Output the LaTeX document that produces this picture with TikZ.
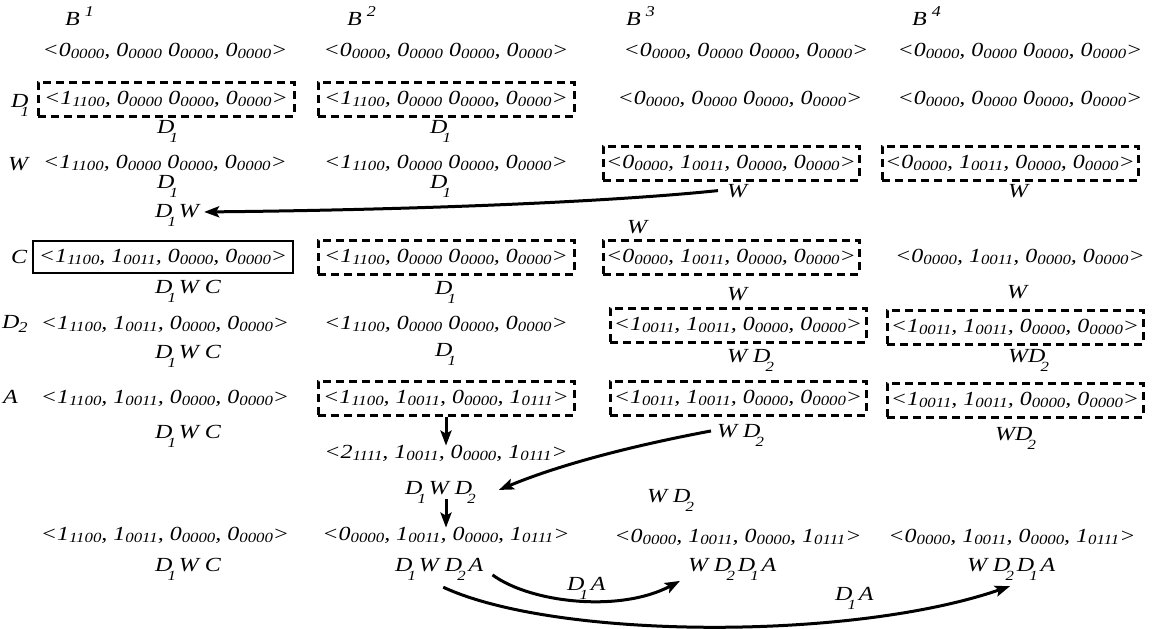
\documentclass[tikz,border=0pt]{standalone}
\usepackage{fontspec}
\setmainfont{Liberation Serif}[FakeStretch=1.2]
\usetikzlibrary{arrows.meta,calc}
% group value with its bit pattern set small beside it
\newcommand\subsz{\itshape\fontsize{14}{14}\selectfont}
\newcommand\gp[2]{#1\raisebox{-2.5pt}{\subsz #2}}
\newcommand\Z{\gp{0}{0000}}
% index under a capital in the labels
\newcommand\lsub[1]{\kern-5pt\raisebox{-9pt}{\fontsize{14}{14}\selectfont #1}}
\newcommand\Da{D\lsub{1}\kern3pt}
\newcommand\Db{D\lsub{2}\kern3pt}
\newcommand\hd[1]{B\kern5pt\raisebox{9pt}{\fontsize{15}{15}\selectfont #1}}
\begin{document}
\begin{tikzpicture}[x=1pt,y=-1pt,
  vec/.style={font=\fontsize{20}{20}\selectfont\itshape, inner sep=0pt},
  dbox/.style={vec, draw, line width=3pt, dash pattern=on 8pt off 5pt,
    minimum width=256pt, minimum height=34pt},
  sbox/.style={vec, draw, line width=2.8pt, minimum width=260pt, minimum height=32pt},
  lab/.style={font=\fontsize{20}{20}\selectfont\itshape, inner sep=0pt, anchor=base west},
  arr/.style={line width=3pt, -{Stealth[length=15pt,width=11pt,inset=3pt]}}]
\useasboundingbox (0,0) rectangle (1160,629);

% column heads
\node[lab] (h1) at (65,25) {\hd{1}};
\node[lab] (h2) at (347,25) {\hd{2}};
\node[lab] (h3) at (626,25) {\hd{3}};
\node[lab] (h4) at (912,25) {\hd{4}};

% row heads
\node[lab] (rl1) at (11,107) {D\kern-8pt\raisebox{-9pt}{\fontsize{14}{14}\selectfont 1}};
\node[lab] (rl2) at (8,170) {W};
\node[lab] (rl3) at (11,263) {C};
\node[lab] (rl4) at (2,328) {D\kern-1pt\raisebox{-4pt}{\fontsize{15}{15}\selectfont 2}};
\node[lab] (rl5) at (3,403) {A};

% row 0
\node[vec] (v01) at (165,51) {<\Z, \Z{} \Z, \Z>};
\node[vec] (v02) at (446,51) {<\Z, \Z{} \Z, \Z>};
\node[vec] (v03) at (746,51) {<\Z, \Z{} \Z, \Z>};
\node[vec] (v04) at (1020,51) {<\Z, \Z{} \Z, \Z>};

% row 1
\node[dbox] (b11) at (166,99) {<\gp{1}{1100}, \Z{} \Z, \Z>};
\node[dbox] (b12) at (446,99) {<\gp{1}{1100}, \Z{} \Z, \Z>};
\node[vec] (v13) at (740,99) {<\Z, \Z{} \Z, \Z>};
\node[vec] (v14) at (1020,99) {<\Z, \Z{} \Z, \Z>};
\node[lab] (l11) at (157,133) {\Da};
\node[lab] (l12) at (430,133) {\Da};

% row 2
\node[vec] (v21) at (165,163) {<\gp{1}{1100}, \Z{} \Z, \Z>};
\node[vec] (v22) at (446,163) {<\gp{1}{1100}, \Z{} \Z, \Z>};
\node[dbox] (b23) at (731,163) {<\Z, \gp{1}{0011}, \Z, \Z>};
\node[dbox] (b24) at (1010,163) {<\Z, \gp{1}{0011}, \Z, \Z>};
\node[lab] (l21) at (157,188) {\Da};
\node[lab] (l22) at (430,188) {\Da};
\node[lab] (l23) at (727,197) {W};
\node[lab] (l24) at (1008,197) {W};
\node[lab] (dw) at (155,217) {\Da W};
\node[lab] (wf) at (627,233) {W};

% row 3
\node[sbox] (s31) at (163,257) {<\gp{1}{1100}, \gp{1}{0011}, \Z, \Z>};
\node[dbox] (b32) at (446,257) {<\gp{1}{1100}, \Z{} \Z, \Z>};
\node[dbox] (b33) at (731,257) {<\Z, \gp{1}{0011}, \Z, \Z>};
\node[vec] (v34) at (1020,257) {<\Z, \gp{1}{0011}, \Z, \Z>};
\node[lab] (l31) at (155,293) {\Da W C};
\node[lab] (l32) at (435,294) {\Da};
\node[lab] (l33) at (727,300) {W};
\node[lab] (l34) at (1007,298) {W};

% row 4
\node[vec] (v41) at (165,324) {<\gp{1}{1100}, \gp{1}{0011}, \Z, \Z>};
\node[vec] (v42) at (446,324) {<\gp{1}{1100}, \Z{} \Z, \Z>};
\node[dbox] (b43) at (738,325) {<\gp{1}{0011}, \gp{1}{0011}, \Z, \Z>};
\node[dbox] (b44) at (1015,327) {<\gp{1}{0011}, \gp{1}{0011}, \Z, \Z>};
\node[lab] (l41) at (155,358) {\Da W C};
\node[lab] (l42) at (435,356) {\Da};
\node[lab] (l43) at (727,362) {W \Db};
\node[lab] (l44) at (1008,362) {W\Db};

% row 5
\node[vec] (v51) at (165,398) {<\gp{1}{1100}, \gp{1}{0011}, \Z, \Z>};
\node[dbox] (b52) at (446,398) {<\gp{1}{1100}, \gp{1}{0011}, \Z, \gp{1}{0111}>};
\node[dbox] (b53) at (738,398) {<\gp{1}{0011}, \gp{1}{0011}, \Z, \Z>};
\node[dbox] (b54) at (1015,400) {<\gp{1}{0011}, \gp{1}{0011}, \Z, \Z>};
\node[lab] (l51) at (155,438) {\Da W C};
\node[lab] (l53) at (717,437) {W \Db};
\node[lab] (l54) at (995,440) {W\Db};

% intermediate step in column 2
\node[vec] (r6) at (446,453) {<\gp{2}{1111}, \gp{1}{0011}, \Z, \gp{1}{0111}>};
\node[lab] (dwd) at (405,494) {\Da W \Db};
\node[lab] (wf2) at (647,502) {W \Db};

% row 7
\node[vec] (v71) at (165,535) {<\gp{1}{1100}, \gp{1}{0011}, \Z, \Z>};
\node[vec] (r7) at (446,535) {<\Z, \gp{1}{0011}, \Z, \gp{1}{0111}>};
\node[vec] (v73) at (738,537) {<\Z, \gp{1}{0011}, \Z, \gp{1}{0111}>};
\node[vec] (v74) at (1012,537) {<\Z, \gp{1}{0011}, \Z, \gp{1}{0111}>};
\node[lab] (l71) at (155,571) {\Da W C};
\node[lab] (l72) at (395,571) {\Da W \Db A};
\node[lab] (l73) at (688,571) {W \Db\Da A};
\node[lab] (l74) at (967,571) {W \Db\Da A};
\node[lab] (da1) at (567,590) {\Da A};
\node[lab] (da2) at (835,600) {\Da A};

% connectors
\draw[arr] ([xshift=-9pt]l23.west) .. controls +(-116,12) and +(200,-2) .. ([xshift=5pt,yshift=3pt]dw.east);
\draw[arr] (b52.south -| r6.center) -- ([yshift=-1pt]r6.north);
\draw[arr] ([xshift=-6pt,yshift=4pt]l53.west) .. controls +(-80,15) and +(60,-25) .. ([xshift=20pt,yshift=2pt]dwd.east);
\draw[arr] ($(r6.center |- dwd.south)+(0,-4)$) -- ([yshift=-1pt]r6.center |- r7.north);
\draw[arr] ($(l72.east)+(9,6)$) .. controls +(38,28) and +(-60,32) .. ($(l73.west)+(-8,12)$);
\draw[arr] ($(l72.south)+(4,7)$) .. controls +(112,52) and +(-160,55) .. ($(l74.south west)+(43,6)$);
\end{tikzpicture}
\end{document}
